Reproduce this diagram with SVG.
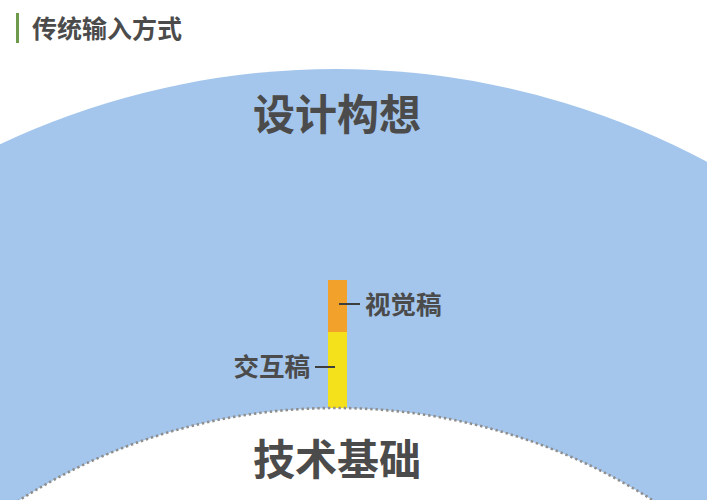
<svg xmlns="http://www.w3.org/2000/svg" width="707" height="500" viewBox="0 0 707 500">
<style>
.t{font-family:"Noto Sans CJK SC","Noto Sans",sans-serif;font-weight:bold;fill:#4b4b4b}
.big{font-size:42px;text-anchor:middle}
.mid{font-size:25.5px}
.lead{stroke:#3e3e3e;stroke-width:2}
</style>
<rect width="707" height="500" fill="#ffffff"/>
<g id="title">
<rect x="16" y="13" width="3" height="30" fill="#6e9a4c"/>
<text class="t" x="32" y="37.5" font-size="25">传统输入方式</text>
</g>
<g id="design">
<circle cx="336" cy="857" r="788" fill="#a4c6ec"/>
<text class="t big" x="337" y="130">设计构想</text>
</g>
<g id="bar">
<rect x="328" y="280" width="19" height="52" fill="#f2a12a"/>
<rect x="328" y="332" width="19" height="90" fill="#f5e01c"/>
</g>
<g id="tech">
<circle cx="336" cy="998" r="590" fill="#ffffff"/>
<circle cx="336" cy="998" r="590" fill="none" stroke="#8e8e8e" stroke-width="2.6" stroke-dasharray="2.4 2.9"/>
<text class="t big" x="337" y="475">技术基础</text>
</g>
<g id="visual">
<text class="t mid" x="365" y="314">视觉稿</text>
</g>
<g id="interaction">
<text class="t mid" x="310" y="376" text-anchor="end">交互稿</text>
</g>
<g id="connectors">
<line class="lead" x1="339" y1="304" x2="360" y2="304"/>
<line class="lead" x1="315" y1="367" x2="335" y2="367"/>
</g>
</svg>
